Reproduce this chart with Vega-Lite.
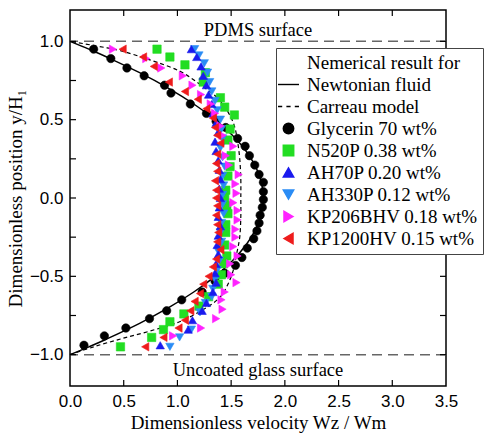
{
  "$schema": "https://vega.github.io/schema/vega-lite/v6.json",
  "width": 376,
  "height": 376,
  "autosize": {"type": "none"},
  "padding": {"left": 70, "top": 10, "right": 39, "bottom": 48},
  "background": "white",
  "datasets": {
    "surf": [{"y": 1}, {"y": -1}],
    "surflab": [
      {"x": 1.75, "y": 1.075, "t": "PDMS surface"},
      {"x": 1.75, "y": -1.1, "t": "Uncoated glass surface"}
    ],
    "xticks": [
      {"v": 0.5, "edge": -1.2}, {"v": 1, "edge": -1.2}, {"v": 1.5, "edge": -1.2}, {"v": 2, "edge": -1.2}, {"v": 2.5, "edge": -1.2}, {"v": 3, "edge": -1.2},
      {"v": 0.5, "edge": 1.2}, {"v": 1, "edge": 1.2}, {"v": 1.5, "edge": 1.2}, {"v": 2, "edge": 1.2}, {"v": 2.5, "edge": 1.2}, {"v": 3, "edge": 1.2}
    ],
    "yticks": [
      {"v": -1, "edge": 0}, {"v": -0.75, "edge": 0}, {"v": -0.5, "edge": 0}, {"v": -0.25, "edge": 0}, {"v": 0, "edge": 0},
      {"v": 0.25, "edge": 0}, {"v": 0.5, "edge": 0}, {"v": 0.75, "edge": 0}, {"v": 1, "edge": 0},
      {"v": -1, "edge": 3.5}, {"v": -0.75, "edge": 3.5}, {"v": -0.5, "edge": 3.5}, {"v": -0.25, "edge": 3.5}, {"v": 0, "edge": 3.5},
      {"v": 0.25, "edge": 3.5}, {"v": 0.5, "edge": 3.5}, {"v": 0.75, "edge": 3.5}, {"v": 1, "edge": 3.5}
    ],
    "newt": [
      {"x": 0, "y": 1}, {"x": 0.176, "y": 0.95}, {"x": 0.342, "y": 0.9}, {"x": 0.648, "y": 0.8}, {"x": 0.918, "y": 0.7},
      {"x": 1.152, "y": 0.6}, {"x": 1.35, "y": 0.5}, {"x": 1.512, "y": 0.4}, {"x": 1.638, "y": 0.3}, {"x": 1.728, "y": 0.2},
      {"x": 1.782, "y": 0.1}, {"x": 1.8, "y": 0}, {"x": 1.782, "y": -0.1}, {"x": 1.728, "y": -0.2}, {"x": 1.638, "y": -0.3},
      {"x": 1.512, "y": -0.4}, {"x": 1.35, "y": -0.5}, {"x": 1.152, "y": -0.6}, {"x": 0.918, "y": -0.7}, {"x": 0.648, "y": -0.8},
      {"x": 0.342, "y": -0.9}, {"x": 0.176, "y": -0.95}, {"x": 0, "y": -1}
    ],
    "carr": [
      {"x": 0, "y": 1}, {"x": 0.25, "y": 0.97}, {"x": 0.47, "y": 0.94}, {"x": 0.75, "y": 0.88}, {"x": 1.02, "y": 0.81},
      {"x": 1.22, "y": 0.72}, {"x": 1.37, "y": 0.64}, {"x": 1.47, "y": 0.55}, {"x": 1.53, "y": 0.46}, {"x": 1.56, "y": 0.36},
      {"x": 1.58, "y": 0.25}, {"x": 1.59, "y": 0.12}, {"x": 1.59, "y": 0}, {"x": 1.59, "y": -0.12}, {"x": 1.58, "y": -0.25},
      {"x": 1.55, "y": -0.36}, {"x": 1.52, "y": -0.46}, {"x": 1.47, "y": -0.55}, {"x": 1.4, "y": -0.63}, {"x": 1.27, "y": -0.7},
      {"x": 1.02, "y": -0.79}, {"x": 0.74, "y": -0.85}, {"x": 0.47, "y": -0.9}, {"x": 0.22, "y": -0.95}, {"x": 0, "y": -1}
    ],
    "pts": [
      {"s": "Glycerin 70 wt%", "x": 0.22, "y": 0.95}, {"s": "Glycerin 70 wt%", "x": 0.38, "y": 0.89}, {"s": "Glycerin 70 wt%", "x": 0.53, "y": 0.83},
      {"s": "Glycerin 70 wt%", "x": 0.69, "y": 0.78}, {"s": "Glycerin 70 wt%", "x": 0.88, "y": 0.72}, {"s": "Glycerin 70 wt%", "x": 0.94, "y": 0.67},
      {"s": "Glycerin 70 wt%", "x": 1.12, "y": 0.6}, {"s": "Glycerin 70 wt%", "x": 1.27, "y": 0.54}, {"s": "Glycerin 70 wt%", "x": 1.36, "y": 0.49},
      {"s": "Glycerin 70 wt%", "x": 1.45, "y": 0.45}, {"s": "Glycerin 70 wt%", "x": 1.56, "y": 0.38}, {"s": "Glycerin 70 wt%", "x": 1.63, "y": 0.33},
      {"s": "Glycerin 70 wt%", "x": 1.67, "y": 0.27}, {"s": "Glycerin 70 wt%", "x": 1.72, "y": 0.21}, {"s": "Glycerin 70 wt%", "x": 1.76, "y": 0.15},
      {"s": "Glycerin 70 wt%", "x": 1.8, "y": 0.1}, {"s": "Glycerin 70 wt%", "x": 1.8, "y": 0.04}, {"s": "Glycerin 70 wt%", "x": 1.8, "y": -0.01},
      {"s": "Glycerin 70 wt%", "x": 1.79, "y": -0.06}, {"s": "Glycerin 70 wt%", "x": 1.77, "y": -0.11}, {"s": "Glycerin 70 wt%", "x": 1.76, "y": -0.16},
      {"s": "Glycerin 70 wt%", "x": 1.74, "y": -0.21}, {"s": "Glycerin 70 wt%", "x": 1.71, "y": -0.26}, {"s": "Glycerin 70 wt%", "x": 1.65, "y": -0.32},
      {"s": "Glycerin 70 wt%", "x": 1.6, "y": -0.38}, {"s": "Glycerin 70 wt%", "x": 1.54, "y": -0.43}, {"s": "Glycerin 70 wt%", "x": 1.44, "y": -0.48},
      {"s": "Glycerin 70 wt%", "x": 1.35, "y": -0.53}, {"s": "Glycerin 70 wt%", "x": 1.23, "y": -0.6}, {"s": "Glycerin 70 wt%", "x": 1.04, "y": -0.65},
      {"s": "Glycerin 70 wt%", "x": 0.9, "y": -0.72}, {"s": "Glycerin 70 wt%", "x": 0.74, "y": -0.77}, {"s": "Glycerin 70 wt%", "x": 0.52, "y": -0.83},
      {"s": "Glycerin 70 wt%", "x": 0.32, "y": -0.88}, {"s": "Glycerin 70 wt%", "x": 0.13, "y": -0.94},

      {"s": "N520P 0.38 wt%", "x": 0.81, "y": 0.95}, {"s": "N520P 0.38 wt%", "x": 0.93, "y": 0.9}, {"s": "N520P 0.38 wt%", "x": 1.07, "y": 0.85},
      {"s": "N520P 0.38 wt%", "x": 1.26, "y": 0.8}, {"s": "N520P 0.38 wt%", "x": 1.24, "y": 0.74}, {"s": "N520P 0.38 wt%", "x": 1.4, "y": 0.64},
      {"s": "N520P 0.38 wt%", "x": 1.44, "y": 0.58}, {"s": "N520P 0.38 wt%", "x": 1.53, "y": 0.53}, {"s": "N520P 0.38 wt%", "x": 1.49, "y": 0.44},
      {"s": "N520P 0.38 wt%", "x": 1.47, "y": 0.37}, {"s": "N520P 0.38 wt%", "x": 1.5, "y": 0.27}, {"s": "N520P 0.38 wt%", "x": 1.49, "y": 0.2},
      {"s": "N520P 0.38 wt%", "x": 1.47, "y": 0.14}, {"s": "N520P 0.38 wt%", "x": 1.45, "y": 0.05}, {"s": "N520P 0.38 wt%", "x": 1.44, "y": 0.0},
      {"s": "N520P 0.38 wt%", "x": 1.46, "y": -0.05}, {"s": "N520P 0.38 wt%", "x": 1.47, "y": -0.1}, {"s": "N520P 0.38 wt%", "x": 1.45, "y": -0.17},
      {"s": "N520P 0.38 wt%", "x": 1.45, "y": -0.22}, {"s": "N520P 0.38 wt%", "x": 1.44, "y": -0.3}, {"s": "N520P 0.38 wt%", "x": 1.46, "y": -0.37},
      {"s": "N520P 0.38 wt%", "x": 1.43, "y": -0.42}, {"s": "N520P 0.38 wt%", "x": 1.41, "y": -0.49}, {"s": "N520P 0.38 wt%", "x": 1.38, "y": -0.55},
      {"s": "N520P 0.38 wt%", "x": 1.29, "y": -0.63}, {"s": "N520P 0.38 wt%", "x": 1.2, "y": -0.69}, {"s": "N520P 0.38 wt%", "x": 1.06, "y": -0.74},
      {"s": "N520P 0.38 wt%", "x": 0.93, "y": -0.79}, {"s": "N520P 0.38 wt%", "x": 0.87, "y": -0.84}, {"s": "N520P 0.38 wt%", "x": 0.76, "y": -0.89},
      {"s": "N520P 0.38 wt%", "x": 0.47, "y": -0.95},

      {"s": "AH330P 0.12 wt%", "x": 1.16, "y": 0.95}, {"s": "AH330P 0.12 wt%", "x": 1.2, "y": 0.91}, {"s": "AH330P 0.12 wt%", "x": 1.25, "y": 0.86},
      {"s": "AH330P 0.12 wt%", "x": 1.28, "y": 0.8}, {"s": "AH330P 0.12 wt%", "x": 1.3, "y": 0.74}, {"s": "AH330P 0.12 wt%", "x": 1.32, "y": 0.68},
      {"s": "AH330P 0.12 wt%", "x": 1.35, "y": 0.62}, {"s": "AH330P 0.12 wt%", "x": 1.37, "y": 0.56}, {"s": "AH330P 0.12 wt%", "x": 1.4, "y": 0.5},
      {"s": "AH330P 0.12 wt%", "x": 1.41, "y": 0.44}, {"s": "AH330P 0.12 wt%", "x": 1.42, "y": 0.38}, {"s": "AH330P 0.12 wt%", "x": 1.4, "y": 0.32},
      {"s": "AH330P 0.12 wt%", "x": 1.42, "y": 0.26}, {"s": "AH330P 0.12 wt%", "x": 1.44, "y": 0.2}, {"s": "AH330P 0.12 wt%", "x": 1.42, "y": 0.14},
      {"s": "AH330P 0.12 wt%", "x": 1.43, "y": 0.08}, {"s": "AH330P 0.12 wt%", "x": 1.42, "y": 0.02}, {"s": "AH330P 0.12 wt%", "x": 1.42, "y": -0.04},
      {"s": "AH330P 0.12 wt%", "x": 1.43, "y": -0.1}, {"s": "AH330P 0.12 wt%", "x": 1.41, "y": -0.16}, {"s": "AH330P 0.12 wt%", "x": 1.4, "y": -0.22},
      {"s": "AH330P 0.12 wt%", "x": 1.41, "y": -0.28}, {"s": "AH330P 0.12 wt%", "x": 1.38, "y": -0.34}, {"s": "AH330P 0.12 wt%", "x": 1.39, "y": -0.4},
      {"s": "AH330P 0.12 wt%", "x": 1.37, "y": -0.46}, {"s": "AH330P 0.12 wt%", "x": 1.35, "y": -0.52}, {"s": "AH330P 0.12 wt%", "x": 1.33, "y": -0.58},
      {"s": "AH330P 0.12 wt%", "x": 1.32, "y": -0.63}, {"s": "AH330P 0.12 wt%", "x": 1.26, "y": -0.67}, {"s": "AH330P 0.12 wt%", "x": 1.21, "y": -0.73},
      {"s": "AH330P 0.12 wt%", "x": 1.13, "y": -0.84}, {"s": "AH330P 0.12 wt%", "x": 1.02, "y": -0.89}, {"s": "AH330P 0.12 wt%", "x": 0.93, "y": -0.95},

      {"s": "AH70P 0.20 wt%", "x": 1.13, "y": 0.95}, {"s": "AH70P 0.20 wt%", "x": 1.18, "y": 0.9}, {"s": "AH70P 0.20 wt%", "x": 1.22, "y": 0.84},
      {"s": "AH70P 0.20 wt%", "x": 1.24, "y": 0.78}, {"s": "AH70P 0.20 wt%", "x": 1.27, "y": 0.72}, {"s": "AH70P 0.20 wt%", "x": 1.29, "y": 0.66},
      {"s": "AH70P 0.20 wt%", "x": 1.32, "y": 0.6}, {"s": "AH70P 0.20 wt%", "x": 1.33, "y": 0.54}, {"s": "AH70P 0.20 wt%", "x": 1.36, "y": 0.48},
      {"s": "AH70P 0.20 wt%", "x": 1.38, "y": 0.42}, {"s": "AH70P 0.20 wt%", "x": 1.35, "y": 0.36}, {"s": "AH70P 0.20 wt%", "x": 1.36, "y": 0.3},
      {"s": "AH70P 0.20 wt%", "x": 1.38, "y": 0.24}, {"s": "AH70P 0.20 wt%", "x": 1.39, "y": 0.18}, {"s": "AH70P 0.20 wt%", "x": 1.4, "y": 0.12},
      {"s": "AH70P 0.20 wt%", "x": 1.39, "y": 0.06}, {"s": "AH70P 0.20 wt%", "x": 1.4, "y": 0.0}, {"s": "AH70P 0.20 wt%", "x": 1.39, "y": -0.06},
      {"s": "AH70P 0.20 wt%", "x": 1.38, "y": -0.12}, {"s": "AH70P 0.20 wt%", "x": 1.4, "y": -0.18}, {"s": "AH70P 0.20 wt%", "x": 1.38, "y": -0.24},
      {"s": "AH70P 0.20 wt%", "x": 1.37, "y": -0.3}, {"s": "AH70P 0.20 wt%", "x": 1.38, "y": -0.36}, {"s": "AH70P 0.20 wt%", "x": 1.36, "y": -0.42},
      {"s": "AH70P 0.20 wt%", "x": 1.35, "y": -0.48}, {"s": "AH70P 0.20 wt%", "x": 1.36, "y": -0.54}, {"s": "AH70P 0.20 wt%", "x": 1.33, "y": -0.6},
      {"s": "AH70P 0.20 wt%", "x": 1.27, "y": -0.67}, {"s": "AH70P 0.20 wt%", "x": 1.23, "y": -0.72}, {"s": "AH70P 0.20 wt%", "x": 1.14, "y": -0.78},
      {"s": "AH70P 0.20 wt%", "x": 1.1, "y": -0.84}, {"s": "AH70P 0.20 wt%", "x": 0.84, "y": -0.94},

      {"s": "KP206BHV 0.18 wt%", "x": 0.4, "y": 0.95}, {"s": "KP206BHV 0.18 wt%", "x": 0.71, "y": 0.89}, {"s": "KP206BHV 0.18 wt%", "x": 0.85, "y": 0.83},
      {"s": "KP206BHV 0.18 wt%", "x": 1.05, "y": 0.78}, {"s": "KP206BHV 0.18 wt%", "x": 1.14, "y": 0.72}, {"s": "KP206BHV 0.18 wt%", "x": 1.22, "y": 0.66},
      {"s": "KP206BHV 0.18 wt%", "x": 1.31, "y": 0.6}, {"s": "KP206BHV 0.18 wt%", "x": 1.35, "y": 0.54}, {"s": "KP206BHV 0.18 wt%", "x": 1.4, "y": 0.46},
      {"s": "KP206BHV 0.18 wt%", "x": 1.42, "y": 0.4}, {"s": "KP206BHV 0.18 wt%", "x": 1.52, "y": 0.33}, {"s": "KP206BHV 0.18 wt%", "x": 1.45, "y": 0.27},
      {"s": "KP206BHV 0.18 wt%", "x": 1.48, "y": 0.21}, {"s": "KP206BHV 0.18 wt%", "x": 1.57, "y": 0.15}, {"s": "KP206BHV 0.18 wt%", "x": 1.54, "y": 0.09},
      {"s": "KP206BHV 0.18 wt%", "x": 1.55, "y": 0.03}, {"s": "KP206BHV 0.18 wt%", "x": 1.52, "y": -0.03}, {"s": "KP206BHV 0.18 wt%", "x": 1.56, "y": -0.08},
      {"s": "KP206BHV 0.18 wt%", "x": 1.56, "y": -0.14}, {"s": "KP206BHV 0.18 wt%", "x": 1.54, "y": -0.2}, {"s": "KP206BHV 0.18 wt%", "x": 1.54, "y": -0.25},
      {"s": "KP206BHV 0.18 wt%", "x": 1.52, "y": -0.31}, {"s": "KP206BHV 0.18 wt%", "x": 1.56, "y": -0.37}, {"s": "KP206BHV 0.18 wt%", "x": 1.49, "y": -0.42},
      {"s": "KP206BHV 0.18 wt%", "x": 1.5, "y": -0.49}, {"s": "KP206BHV 0.18 wt%", "x": 1.55, "y": -0.54}, {"s": "KP206BHV 0.18 wt%", "x": 1.44, "y": -0.6},
      {"s": "KP206BHV 0.18 wt%", "x": 1.41, "y": -0.65}, {"s": "KP206BHV 0.18 wt%", "x": 1.42, "y": -0.71}, {"s": "KP206BHV 0.18 wt%", "x": 1.36, "y": -0.77},
      {"s": "KP206BHV 0.18 wt%", "x": 1.22, "y": -0.83}, {"s": "KP206BHV 0.18 wt%", "x": 0.96, "y": -0.88},

      {"s": "KP1200HV 0.15 wt%", "x": 0.49, "y": 0.95}, {"s": "KP1200HV 0.15 wt%", "x": 0.68, "y": 0.9}, {"s": "KP1200HV 0.15 wt%", "x": 0.78, "y": 0.84},
      {"s": "KP1200HV 0.15 wt%", "x": 0.92, "y": 0.74}, {"s": "KP1200HV 0.15 wt%", "x": 1.07, "y": 0.68}, {"s": "KP1200HV 0.15 wt%", "x": 1.19, "y": 0.63},
      {"s": "KP1200HV 0.15 wt%", "x": 1.27, "y": 0.57}, {"s": "KP1200HV 0.15 wt%", "x": 1.33, "y": 0.51}, {"s": "KP1200HV 0.15 wt%", "x": 1.35, "y": 0.45},
      {"s": "KP1200HV 0.15 wt%", "x": 1.37, "y": 0.4}, {"s": "KP1200HV 0.15 wt%", "x": 1.4, "y": 0.35}, {"s": "KP1200HV 0.15 wt%", "x": 1.37, "y": 0.28},
      {"s": "KP1200HV 0.15 wt%", "x": 1.36, "y": 0.22}, {"s": "KP1200HV 0.15 wt%", "x": 1.37, "y": 0.17}, {"s": "KP1200HV 0.15 wt%", "x": 1.35, "y": 0.11},
      {"s": "KP1200HV 0.15 wt%", "x": 1.36, "y": 0.05}, {"s": "KP1200HV 0.15 wt%", "x": 1.36, "y": 0.0}, {"s": "KP1200HV 0.15 wt%", "x": 1.37, "y": -0.05},
      {"s": "KP1200HV 0.15 wt%", "x": 1.36, "y": -0.11}, {"s": "KP1200HV 0.15 wt%", "x": 1.37, "y": -0.17}, {"s": "KP1200HV 0.15 wt%", "x": 1.38, "y": -0.22},
      {"s": "KP1200HV 0.15 wt%", "x": 1.37, "y": -0.28}, {"s": "KP1200HV 0.15 wt%", "x": 1.4, "y": -0.33}, {"s": "KP1200HV 0.15 wt%", "x": 1.36, "y": -0.39},
      {"s": "KP1200HV 0.15 wt%", "x": 1.33, "y": -0.44}, {"s": "KP1200HV 0.15 wt%", "x": 1.29, "y": -0.5}, {"s": "KP1200HV 0.15 wt%", "x": 1.24, "y": -0.55},
      {"s": "KP1200HV 0.15 wt%", "x": 1.21, "y": -0.61}, {"s": "KP1200HV 0.15 wt%", "x": 1.16, "y": -0.66}, {"s": "KP1200HV 0.15 wt%", "x": 1.12, "y": -0.72},
      {"s": "KP1200HV 0.15 wt%", "x": 1.07, "y": -0.78}, {"s": "KP1200HV 0.15 wt%", "x": 1.01, "y": -0.83}, {"s": "KP1200HV 0.15 wt%", "x": 0.87, "y": -0.89},
      {"s": "KP1200HV 0.15 wt%", "x": 0.7, "y": -0.95}
    ]
  },
  "layer": [
    {
      "data": {"name": "surf"},
      "mark": {"type": "rule", "color": "#666666", "strokeWidth": 1.5, "strokeDash": [10, 6]},
      "encoding": {
        "y": {"field": "y", "type": "quantitative", "scale": {"domain": [-1.2, 1.2], "nice": false, "zero": false}}
      }
    },
    {
      "data": {"name": "surflab"},
      "mark": {"type": "text", "font": "Liberation Serif", "fontSize": 18.5, "color": "black", "align": "center", "baseline": "middle"},
      "encoding": {
        "x": {"field": "x", "type": "quantitative"},
        "y": {"field": "y", "type": "quantitative"},
        "text": {"field": "t"}
      }
    },
    {
      "data": {"name": "newt"},
      "mark": {"type": "line", "color": "black", "strokeWidth": 1.5, "interpolate": "cardinal"},
      "encoding": {
        "x": {"field": "x", "type": "quantitative", "scale": {"domain": [0, 3.5], "nice": false, "zero": false},
          "axis": {"orient": "bottom", "values": [0, 0.5, 1, 1.5, 2, 2.5, 3, 3.5], "format": ".1f", "labelPadding": 7,
            "title": "Dimensionless velocity     Wz / Wm", "titlePadding": 4}},
        "y": {"field": "y", "type": "quantitative", "scale": {"domain": [-1.2, 1.2], "nice": false, "zero": false},
          "axis": {"orient": "left", "values": [-1, -0.75, -0.5, -0.25, 0, 0.25, 0.5, 0.75, 1], "format": ".1f", "labelPadding": 7,
            "labelExpr": "abs(datum.value * 2 - round(datum.value * 2)) < 0.01 ? datum.label : ''",
            "title": "Dimensionless position    y/H₁", "titlePadding": 4}},
        "order": {"field": "y", "type": "quantitative"}
      }
    },
    {
      "data": {"name": "carr"},
      "mark": {"type": "line", "color": "black", "strokeWidth": 1.2, "strokeDash": [4, 3], "interpolate": "cardinal"},
      "encoding": {
        "x": {"field": "x", "type": "quantitative"},
        "y": {"field": "y", "type": "quantitative"},
        "order": {"field": "y", "type": "quantitative"}
      }
    },
    {
      "data": {"name": "pts"},
      "mark": {"type": "point", "filled": false, "opacity": 1, "size": 70, "strokeWidth": 0.6},
      "encoding": {
        "x": {"field": "x", "type": "quantitative"},
        "y": {"field": "y", "type": "quantitative"},
        "fill": {"field": "s", "type": "nominal",
          "scale": {"domain": ["Nemerical result for", "Newtonian fluid", "Carreau model", "Glycerin 70 wt%", "N520P 0.38 wt%", "AH70P 0.20 wt%", "AH330P 0.12 wt%", "KP206BHV 0.18 wt%", "KP1200HV 0.15 wt%"],
            "range": ["#000000", "#000000", "#000000", "#000000", "#22dd22", "#1a1aee", "#2a8cf5", "#ff22ff", "#ee1c1c"]},
          "legend": {"title": null}},
        "stroke": {"field": "s", "type": "nominal",
          "scale": {"domain": ["Nemerical result for", "Newtonian fluid", "Carreau model", "Glycerin 70 wt%", "N520P 0.38 wt%", "AH70P 0.20 wt%", "AH330P 0.12 wt%", "KP206BHV 0.18 wt%", "KP1200HV 0.15 wt%"],
            "range": ["#000000", "#000000", "#000000", "#000000", "#22dd22", "#1a1aee", "#2a8cf5", "#ff22ff", "#ee1c1c"]},
          "legend": {"title": null}},
        "shape": {"field": "s", "type": "nominal",
          "scale": {"domain": ["Nemerical result for", "Newtonian fluid", "Carreau model", "Glycerin 70 wt%", "N520P 0.38 wt%", "AH70P 0.20 wt%", "AH330P 0.12 wt%", "KP206BHV 0.18 wt%", "KP1200HV 0.15 wt%"],
            "range": ["M0,0", "M-2,0H2", "M-2,0H-1.2M-0.4,0H0.4M1.2,0H2", "circle", "square", "triangle-up", "triangle-down", "triangle-right", "triangle-left"]},
          "legend": {"title": null}}
      }
    },
    {
      "data": {"name": "xticks"},
      "mark": {"type": "tick", "orient": "vertical", "color": "black", "size": 12, "thickness": 1.2, "clip": true, "opacity": 1},
      "encoding": {
        "x": {"field": "v", "type": "quantitative"},
        "y": {"field": "edge", "type": "quantitative"}
      }
    },
    {
      "data": {"name": "yticks"},
      "mark": {"type": "tick", "orient": "horizontal", "color": "black", "size": 12, "thickness": 1.2, "clip": true, "opacity": 1},
      "encoding": {
        "x": {"field": "edge", "type": "quantitative"},
        "y": {"field": "v", "type": "quantitative"}
      }
    }
  ],
  "config": {
    "view": {"stroke": "black", "strokeWidth": 1.5},
    "axis": {
      "domain": false, "ticks": false, "grid": false,
      "labelFont": "Liberation Sans", "labelFontSize": 17, "labelColor": "black", "labelFlush": false, "labelOverlap": false,
      "titleFont": "Liberation Serif", "titleFontSize": 19, "titleFontWeight": "normal", "titleColor": "black"
    },
    "legend": {
      "orient": "none", "legendX": 206, "legendY": 38,
      "strokeColor": "#444444", "fillColor": "white", "padding": 5,
      "symbolOffset": -2, "labelOffset": 9, "symbolSize": 110, "symbolStrokeWidth": 1.4,
      "labelFont": "Liberation Serif", "labelFontSize": 19, "labelColor": "black", "labelLimit": 300,
      "rowPadding": 2
    }
  }
}
